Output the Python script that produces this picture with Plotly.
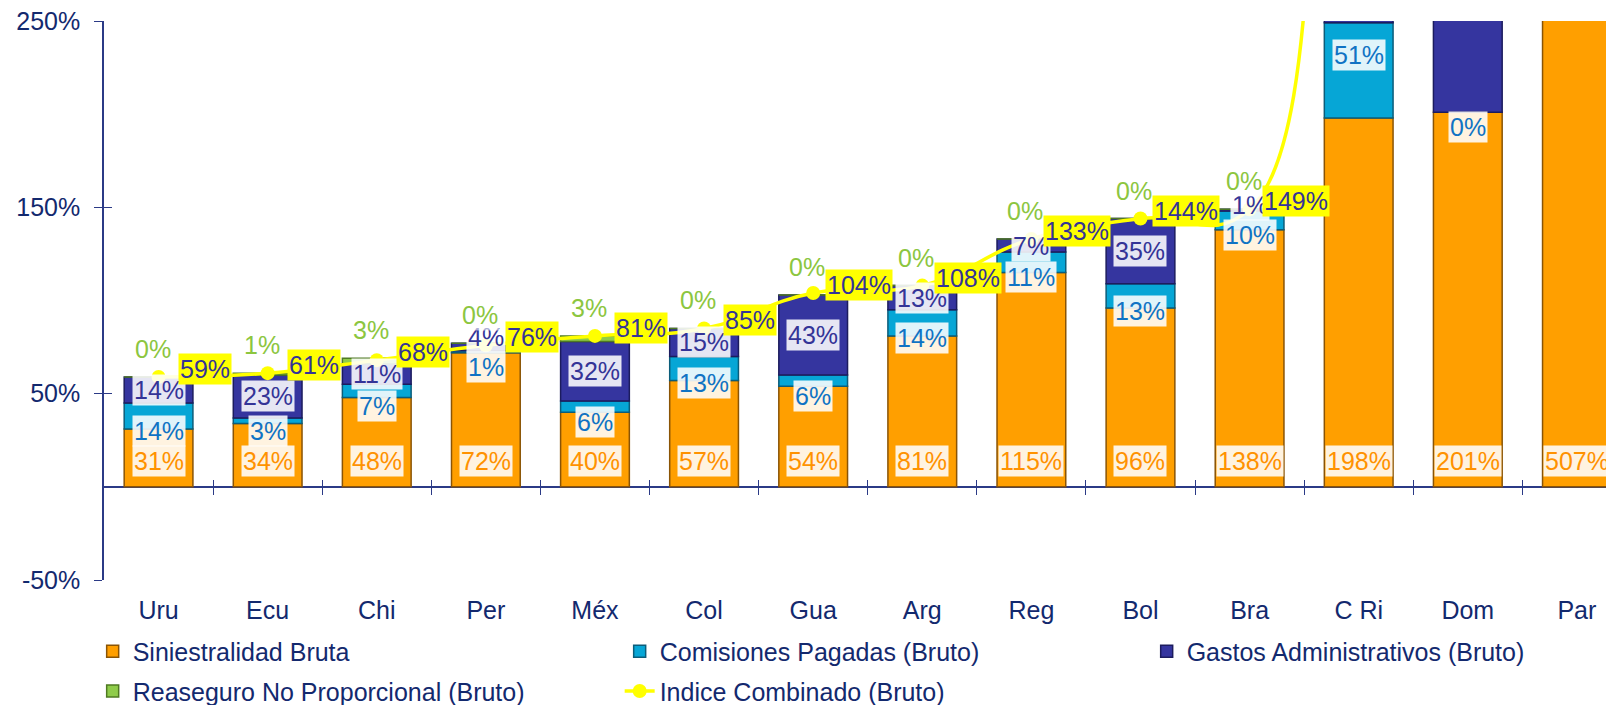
import plotly.graph_objects as go

# ---------------- data ----------------
categories = ["Uru", "Ecu", "Chi", "Per", "Méx", "Col", "Gua", "Arg",
              "Reg", "Bol", "Bra", "C Ri", "Dom", "Par"]
siniestralidad = [31, 34, 48, 72, 40, 57, 54, 81, 115, 96, 138, 198, 201, 507]
comisiones = [14, 3, 7, 1, 6, 13, 6, 14, 11, 13, 10, 51, 0, 15]
gastos = [14, 23, 11, 4, 32, 15, 43, 13, 7, 35, 1, 171, 150, 40]
reaseguro = [0, 1, 3, 0, 3, 0, 0, 0, 0, 0, 0, 0, 0, 0]
indice = [59, 61, 68, 76, 81, 85, 104, 108, 133, 144, 149, 420, 351, 562]
y_ticks = [-50, 50, 150, 250]

# ---------------- styles ----------------
FONT = "Liberation Sans, Arial, sans-serif"
NAVY = "#13296e"
AXIS = "#2b3a86"
C_SIN, C_COM, C_GAS, C_REA, C_IND = "#ff9f00", "#06a6d6", "#35359f", "#8fcc4a", "#ffff00"
T_SIN, T_COM, T_GAS, T_REA, T_IND = "#ff9200", "#1073c4", "#343497", "#8cc63f", "#343497"
Y_MIN, Y_MAX = -50, 250
n = len(categories)
idx = list(range(n))

fig = go.Figure()
bar_w = 0.63
series = [
    ("Siniestralidad Bruta", siniestralidad, C_SIN, "#8a5405"),
    ("Comisiones Pagadas (Bruto)", comisiones, C_COM, "#0b5d7a"),
    ("Gastos Administrativos (Bruto)", gastos, C_GAS, "#1c1c5e"),
    ("Reaseguro No Proporcional (Bruto)", reaseguro, C_REA, "#4f7a22"),
]
for i, (name, vals, col, edge) in enumerate(series):
    fig.add_trace(go.Bar(
        x=idx, y=vals, name=name, width=bar_w,
        marker=dict(color=col, line=dict(color=edge, width=1.5)),
        legend="legend" if i < 3 else "legend2",
        hoverinfo="skip",
    ))

fig.add_trace(go.Scatter(
    x=idx, y=indice, name="Indice Combinado (Bruto)", mode="lines+markers",
    line=dict(color=C_IND, width=3.5, shape="spline", smoothing=1.3),
    marker=dict(color=C_IND, size=14),
    legend="legend2", hoverinfo="skip",
))

# helper traces for the crossing ticks (zero line and y axis)
boundaries = [i + 0.5 for i in range(n - 1)]
fig.add_trace(go.Scatter(x=boundaries, y=[0] * len(boundaries), mode="none",
                         xaxis="x2", yaxis="y2", showlegend=False, hoverinfo="skip"))
fig.add_trace(go.Scatter(x=boundaries, y=[0] * len(boundaries), mode="none",
                         xaxis="x3", yaxis="y2", showlegend=False, hoverinfo="skip"))

# ---------------- labels ----------------
ann = []
def label(x, y, text, color, bg="rgba(255,255,255,0.88)", xs=0, ys=0):
    ann.append(dict(x=x, y=y, xref="x", yref="y", text=text, showarrow=False,
                    font=dict(family=FONT, size=25, color=color),
                    bgcolor=bg, borderpad=1, xshift=xs, yshift=ys,
                    xanchor="center", yanchor="middle"))

LIM = 243
for i in idx:
    s, c, g, r = siniestralidad[i], comisiones[i], gastos[i], reaseguro[i]
    label(i, 0, f"{s}%", T_SIN, ys=26)
    if c >= 30:
        yc = s + min(c, Y_MAX - s) / 2 + 8
    else:
        yc = max(s + c / 2 - 8, 30)
    if yc < LIM:
        label(i, yc, f"{c}%", T_COM)
    yg = max(s + c + g / 2, yc + 16)
    if yg < LIM:
        label(i, yg, f"{g}%", T_GAS)
    top = s + c + g + r
    if top < LIM - 15:
        label(i, top, f"{r}%", T_REA, bg="rgba(255,255,255,0.6)", xs=-6, ys=28)
    if indice[i] < LIM:
        label(i, indice[i], f"{indice[i]}%", T_IND, bg=C_IND, xs=46, ys=8)

# ---------------- layout ----------------
# the page body adds an 8px margin, so the figure is 8px smaller and shifted
W, H = 1606, 697
pos0 = (0 - Y_MIN) / (Y_MAX - Y_MIN)
xr = [-0.5, 13.34]
fig.update_layout(
    width=W, height=H,
    margin=dict(l=96, r=0, t=13, b=125, autoexpand=False),
    paper_bgcolor="white", plot_bgcolor="white",
    barmode="relative",
    font=dict(family=FONT, color=NAVY, size=25),
    annotations=ann,
    xaxis=dict(range=xr, tickmode="array", tickvals=idx, ticktext=categories,
               showgrid=False, zeroline=False, showline=False, ticks="",
               ticklabelstandoff=13, tickfont=dict(size=25, color=NAVY)),
    xaxis2=dict(range=xr, overlaying="x", anchor="free", position=pos0,
                tickmode="array", tickvals=boundaries, ticks="outside", ticklen=7,
                tickcolor=AXIS, tickwidth=1.3, showticklabels=False,
                showgrid=False, zeroline=False, showline=False),
    xaxis3=dict(range=xr, overlaying="x", anchor="free", position=pos0,
                tickmode="array", tickvals=boundaries, ticks="inside", ticklen=7,
                tickcolor=AXIS, tickwidth=1.3, showticklabels=False,
                showgrid=False, zeroline=False, showline=False),
    yaxis=dict(range=[Y_MIN, Y_MAX], tickmode="array", tickvals=y_ticks,
               ticktext=[f"{v}%" for v in y_ticks], ticks="outside", ticklen=8,
               tickcolor=AXIS, tickwidth=1.3, showline=True, linecolor=AXIS,
               linewidth=1.5, showgrid=False, zeroline=True, zerolinecolor=AXIS,
               zerolinewidth=1.5, ticklabelstandoff=9, ticklabeloverflow="allow",
               tickfont=dict(size=25, color=NAVY)),
    yaxis2=dict(range=[Y_MIN, Y_MAX], overlaying="y", anchor="x", side="left",
                tickmode="array", tickvals=y_ticks, ticks="inside", ticklen=8,
                tickcolor=AXIS, tickwidth=1.3, showticklabels=False,
                showgrid=False, zeroline=False, showline=False),
    legend=dict(orientation="h", x=-0.0075, xanchor="left", y=-0.1277, yanchor="middle",
                entrywidth=482, entrywidthmode="pixels", traceorder="normal",
                font=dict(size=25, color=NAVY), bgcolor="rgba(0,0,0,0)"),
    legend2=dict(orientation="h", x=-0.0075, xanchor="left", y=-0.199, yanchor="middle",
                 entrywidth=482, entrywidthmode="pixels", traceorder="normal",
                 font=dict(size=25, color=NAVY), bgcolor="rgba(0,0,0,0)"),
    showlegend=True,
)

fig.write_html("out.html")
